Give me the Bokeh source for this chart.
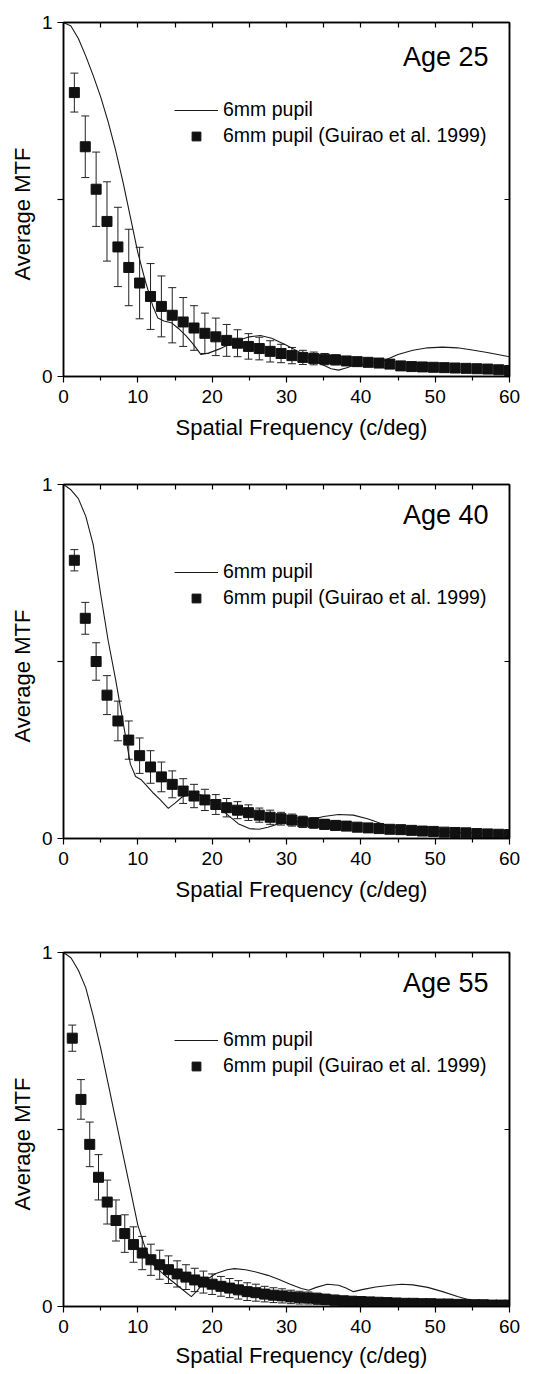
from bokeh.plotting import figure
from bokeh.models import (Range1d, LinearAxis, FixedTicker, Legend, LegendItem,
                          Label, Title, ColumnDataSource, Whisker, TeeHead)
from bokeh.layouts import column
from bokeh.embed import file_html
from bokeh.resources import INLINE

FONT = "Liberation Sans"

# ---------------- data ----------------
x_ticks = [0, 10, 20, 30, 40, 50, 60]
x_minor_ticks = [5, 15, 25, 35, 45, 55]
y_ticks = [0, 1]
y_minor_ticks = [0.5]

ages = ["Age 25", "Age 40", "Age 55"]

# spatial frequencies of the measured points (c/deg)
freq41 = [1.46, 2.93, 4.39, 5.85, 7.32, 8.78, 10.24, 11.71, 13.17, 14.63,
          16.10, 17.56, 19.02, 20.49, 21.95, 23.41, 24.88, 26.34, 27.80, 29.27,
          30.73, 32.20, 33.66, 35.12, 36.59, 38.05, 39.51, 40.98, 42.44, 43.90,
          45.37, 46.83, 48.29, 49.76, 51.22, 52.68, 54.15, 55.61, 57.07, 58.54, 60.00]
freq51 = [1.18, 2.35, 3.53, 4.71, 5.88, 7.06, 8.24, 9.41, 10.59, 11.76,
          12.94, 14.12, 15.29, 16.47, 17.65, 18.82, 20.00, 21.18, 22.35, 23.53,
          24.71, 25.88, 27.06, 28.24, 29.41, 30.59, 31.76, 32.94, 34.12, 35.29,
          36.47, 37.65, 38.82, 40.00, 41.18, 42.35, 43.53, 44.71, 45.88, 47.06,
          48.24, 49.41, 50.59, 51.76, 52.94, 54.12, 55.29, 56.47, 57.65, 58.82, 60.00]

# Age 25
guirao25_mtf = [0.802, 0.649, 0.529, 0.438, 0.366, 0.308, 0.264, 0.226, 0.198, 0.173,
                0.154, 0.137, 0.122, 0.112, 0.102, 0.094, 0.085, 0.079, 0.071, 0.065,
                0.059, 0.054, 0.051, 0.049, 0.047, 0.044, 0.042, 0.040, 0.038, 0.035,
                0.030, 0.028, 0.027, 0.026, 0.025, 0.024, 0.023, 0.022, 0.021, 0.019, 0.017]
guirao25_err = [0.055, 0.087, 0.105, 0.112, 0.112, 0.108, 0.101, 0.093, 0.086, 0.078,
                0.069, 0.063, 0.057, 0.053, 0.045, 0.038, 0.036, 0.032, 0.030, 0.026,
                0.023, 0.020, 0.018, 0.016, 0.014, 0.012, 0.010, 0.009, 0.008, 0.007,
                0.006, 0.006, 0.005, 0.005, 0.004, 0.004, 0.004, 0.003, 0.003, 0.003, 0.003]
model25_f = [0, 1, 2, 3, 4, 5, 6, 7, 8, 9, 10, 11, 12, 12.7, 13.5, 14.5, 15.5, 16.5,
             17.5, 18.5, 19.5, 21, 23, 25, 26.5, 28, 30, 32, 34, 36, 37, 38, 39, 41,
             43, 45, 47, 49, 51, 53, 55, 57, 60]
model25_mtf = [1.0, 0.99, 0.955, 0.905, 0.85, 0.79, 0.72, 0.64, 0.55, 0.45, 0.35, 0.27,
               0.2, 0.165, 0.157, 0.152, 0.135, 0.115, 0.09, 0.062, 0.066, 0.078, 0.098,
               0.112, 0.116, 0.108, 0.088, 0.066, 0.042, 0.022, 0.018, 0.024, 0.031,
               0.036, 0.044, 0.062, 0.074, 0.081, 0.083, 0.081, 0.075, 0.068, 0.056]

# Age 40
guirao40_mtf = [0.786, 0.622, 0.500, 0.405, 0.332, 0.278, 0.234, 0.202, 0.174, 0.153,
                0.134, 0.120, 0.109, 0.096, 0.087, 0.080, 0.073, 0.066, 0.060, 0.056,
                0.052, 0.047, 0.044, 0.040, 0.037, 0.035, 0.032, 0.030, 0.028, 0.026,
                0.025, 0.023, 0.021, 0.020, 0.018, 0.017, 0.016, 0.014, 0.013, 0.012, 0.011]
guirao40_err = [0.030, 0.045, 0.053, 0.055, 0.056, 0.054, 0.050, 0.046, 0.042, 0.038,
                0.035, 0.033, 0.030, 0.028, 0.026, 0.024, 0.022, 0.020, 0.020, 0.018,
                0.017, 0.016, 0.015, 0.014, 0.013, 0.012, 0.011, 0.010, 0.009, 0.008,
                0.007, 0.006, 0.006, 0.005, 0.005, 0.004, 0.004, 0.004, 0.003, 0.003, 0.003]
model40_f = [0, 1, 2, 3, 4, 5, 6, 7, 8, 9, 9.7, 10.5, 12, 13, 14.1, 15, 16, 17.5, 19,
             20.5, 22, 23.5, 25, 26.3, 27.5, 29, 31, 33, 35, 37, 39, 41, 43, 45, 48,
             52, 56, 60]
model40_mtf = [1.0, 0.985, 0.96, 0.91, 0.83, 0.69, 0.56, 0.45, 0.33, 0.21, 0.175, 0.165,
               0.13, 0.11, 0.085, 0.1, 0.118, 0.128, 0.12, 0.095, 0.068, 0.042, 0.028,
               0.026, 0.032, 0.042, 0.047, 0.052, 0.062, 0.068, 0.066, 0.055, 0.04,
               0.03, 0.023, 0.018, 0.014, 0.011]

# Age 55
guirao55_mtf = [0.758, 0.585, 0.458, 0.365, 0.295, 0.243, 0.206, 0.175, 0.151, 0.132,
                0.118, 0.104, 0.092, 0.083, 0.075, 0.069, 0.063, 0.057, 0.052, 0.047,
                0.042, 0.039, 0.035, 0.032, 0.030, 0.027, 0.025, 0.024, 0.022, 0.020,
                0.018, 0.016, 0.015, 0.014, 0.013, 0.012, 0.011, 0.010, 0.009, 0.009,
                0.008, 0.008, 0.007, 0.007, 0.006, 0.006, 0.005, 0.005, 0.004, 0.004, 0.004]
guirao55_err = [0.037, 0.056, 0.063, 0.064, 0.062, 0.058, 0.053, 0.050, 0.047, 0.044,
                0.041, 0.039, 0.037, 0.035, 0.033, 0.031, 0.029, 0.028, 0.027, 0.026,
                0.025, 0.024, 0.022, 0.021, 0.020, 0.019, 0.018, 0.017, 0.016, 0.015,
                0.014, 0.013, 0.012, 0.011, 0.010, 0.009, 0.008, 0.007, 0.006, 0.006,
                0.005, 0.005, 0.005, 0.004, 0.004, 0.004, 0.003, 0.003, 0.003, 0.003, 0.003]
model55_f = [0, 1, 2, 3, 4, 5, 6, 7, 8, 9, 10, 11, 12, 13, 14, 15, 16, 17.2, 18, 19,
             20.5, 22, 23, 24.5, 26, 27.5, 29, 30.5, 32, 33, 34, 35.5, 37, 38, 39, 40.5,
             42, 44, 45.5, 47, 49, 51, 53, 55, 57, 60]
model55_mtf = [1.0, 0.985, 0.95, 0.9, 0.82, 0.73, 0.63, 0.53, 0.43, 0.33, 0.23, 0.165,
               0.12, 0.1, 0.082, 0.065, 0.048, 0.028, 0.045, 0.072, 0.093, 0.104, 0.107,
               0.104, 0.097, 0.088, 0.076, 0.063, 0.051, 0.046, 0.054, 0.063, 0.06,
               0.052, 0.042, 0.049, 0.055, 0.06, 0.063, 0.061, 0.054, 0.042, 0.028,
               0.016, 0.01, 0.005]

line_label = "6mm pupil"
points_label = "6mm pupil (Guirao et al. 1999)"
x_title = "Spatial Frequency (c/deg)"
y_title = "Average MTF"


def make_panel(age, mf, mm, gf, gm, ge, height, top, bottom, age_y, xt_standoff):
    p = figure(width=548, height=height, output_backend="svg", toolbar_location=None,
               x_range=Range1d(0, 60), y_range=Range1d(0, 1),
               min_border_left=63, min_border_right=39,
               min_border_top=top, min_border_bottom=bottom,
               x_axis_type=None, y_axis_type=None)
    p.xgrid.grid_line_color = None
    p.ygrid.grid_line_color = None
    p.outline_line_color = "black"
    p.outline_line_width = 1.5
    p.background_fill_color = "white"
    p.border_fill_color = "white"

    def style(ax):
        ax.axis_line_color = "black"
        ax.axis_line_width = 1.5
        ax.major_tick_line_color = "black"
        ax.minor_tick_line_color = "black"
        ax.major_tick_line_width = 1.2
        ax.minor_tick_line_width = 1.2
        ax.major_label_text_font = FONT
        ax.major_label_text_font_size = "19px"
        ax.major_label_text_color = "black"

    # bottom axis with labels
    xb = LinearAxis(ticker=FixedTicker(ticks=x_ticks, minor_ticks=x_minor_ticks))
    style(xb)
    xb.major_tick_out = 6
    xb.major_tick_in = 0
    xb.minor_tick_out = 4
    xb.minor_tick_in = 0
    xb.major_label_standoff = 7
    p.add_layout(xb, "below")

    # top axis: inward ticks only
    xt = LinearAxis(ticker=FixedTicker(ticks=[], minor_ticks=x_ticks + x_minor_ticks))
    style(xt)
    xt.minor_tick_out = 0
    xt.minor_tick_in = 5
    xt.major_label_standoff = 0
    p.add_layout(xt, "above")

    # left axis with labels
    yl = LinearAxis(ticker=FixedTicker(ticks=y_ticks, minor_ticks=y_minor_ticks))
    style(yl)
    yl.major_tick_out = 6
    yl.major_tick_in = 0
    yl.minor_tick_out = 6
    yl.minor_tick_in = 0
    yl.major_label_standoff = 5
    p.add_layout(yl, "left")

    # right axis: inward ticks only
    yr = LinearAxis(ticker=FixedTicker(ticks=[], minor_ticks=y_ticks + y_minor_ticks))
    style(yr)
    yr.minor_tick_out = 0
    yr.minor_tick_in = 5
    yr.major_label_standoff = 0
    p.add_layout(yr, "right")

    # axis titles (offset along the axis as in the original)
    p.add_layout(Title(text=x_title, align="left", offset=112, standoff=xt_standoff,
                       text_font=FONT, text_font_size="22px", text_font_style="normal",
                       text_color="black"), "below")
    p.add_layout(Title(text=y_title, align="left", offset=96, standoff=8,
                       text_font=FONT, text_font_size="22px", text_font_style="normal",
                       text_color="black"), "left")

    line_r = p.line(mf, mm, line_color="#1a1a1a", line_width=1.1)

    src = ColumnDataSource(dict(
        x=gf, y=gm,
        upper=[m + e for m, e in zip(gm, ge)],
        lower=[m - e for m, e in zip(gm, ge)],
    ))
    w = Whisker(base="x", upper="upper", lower="lower", source=src,
                line_color="#222222", line_width=1,
                upper_head=TeeHead(size=8, line_color="#222222", line_width=1),
                lower_head=TeeHead(size=8, line_color="#222222", line_width=1))
    p.add_layout(w)
    sq_r = p.scatter("x", "y", source=src, marker="square", size=10,
                     fill_color="#111111", line_color="#111111")

    legend = Legend(items=[LegendItem(label=line_label, renderers=[line_r]),
                           LegendItem(label=points_label, renderers=[sq_r])],
                    location=(111, 229), glyph_width=44, glyph_height=22,
                    label_height=22, label_standoff=5, spacing=3, padding=0,
                    margin=0, border_line_color=None, background_fill_alpha=0,
                    label_text_font=FONT, label_text_font_size="19.5px",
                    label_text_color="black")
    p.add_layout(legend)

    p.add_layout(Label(x=425, y=age_y, x_units="screen", y_units="screen", text=age,
                       text_align="right", text_baseline="alphabetic",
                       text_font=FONT, text_font_size="27px", text_color="black"))
    return p


# figure heights / borders chosen so the three frames sit where the original's do
p1 = make_panel(ages[0], model25_f, model25_mtf, freq41, guirao25_mtf, guirao25_err,
                471, 22, 95, 320, 14)
p2 = make_panel(ages[1], model40_f, model40_mtf, freq41, guirao40_mtf, guirao40_err,
                468, 13, 101, 324, 14)
p3 = make_panel(ages[2], model55_f, model55_mtf, freq51, guirao55_mtf, guirao55_err,
                435, 13, 68, 324, 10)

layout = column(p1, p2, p3, spacing=0)
open("out.html", "w").write(file_html(layout, INLINE))
